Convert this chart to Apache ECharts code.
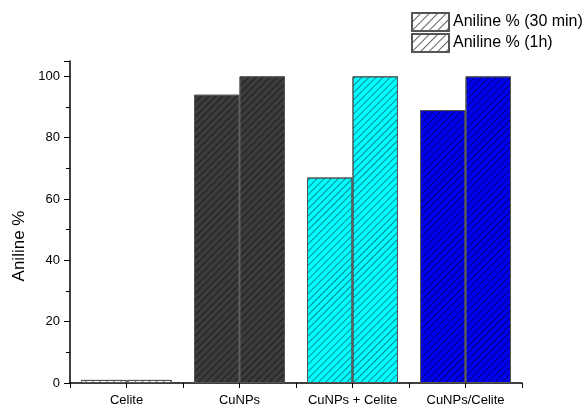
<!DOCTYPE html>
<html>
<head>
<meta charset="utf-8">
<script src="https://cdn.jsdelivr.net/npm/echarts@6/dist/echarts.min.js"></script>
<style>
  html, body { margin: 0; padding: 0; background: #fff; }
  #chart { width: 587px; height: 407px; }
</style>
</head>
<body>
<div id="chart"></div>
<script>
// Catalyst samples and aniline yield (%) after 30 min and 1 h
const categories = ['Celite', 'CuNPs', 'CuNPs + Celite', 'CuNPs/Celite'];
const aniline30min = [1, 94, 67, 89];
const aniline1h = [1, 100, 100, 100];
const seriesNames = ['Aniline % (30 min)', 'Aniline % (1h)'];
const barColors = ['#ffffff', '#3c3c3c', '#00ffff', '#0000f0'];
const yTicks = [0, 20, 40, 60, 80, 100];

// diagonal "/" hatch used as bar fill texture
function hatch(color, gap) {
  return {
    symbol: 'rect',
    symbolSize: 1,
    dashArrayX: [1, 0],
    dashArrayY: [1, gap],
    rotation: -Math.PI / 4,
    color: color
  };
}
const hatchColors = ['rgba(90,90,90,0.8)', 'rgba(20,20,20,0.75)', 'rgba(0,90,100,0.7)', 'rgba(0,0,70,0.7)'];

function buildData(values) {
  return values.map((v, i) => ({
    value: v,
    itemStyle: {
      color: barColors[i],
      decal: hatch(hatchColors[i], 3.5)
    }
  }));
}

const font = 'Liberation Sans, Arial, sans-serif';
const chart = echarts.init(document.getElementById('chart'), null, { renderer: 'canvas' });

const legendStyle = { color: '#ffffff', borderColor: '#333', borderWidth: 1, decal: hatch('rgba(70,70,70,0.85)', 5) };

chart.setOption({
  animation: false,
  aria: { enabled: true, decal: { show: true } },
  backgroundColor: '#ffffff',
  grid: { left: 70, right: 65, top: 61, bottom: 24, containLabel: false },
  legend: {
    orient: 'vertical',
    left: 411,
    top: 12,
    padding: 0,
    itemWidth: 37,
    itemHeight: 18,
    itemGap: 1,
    icon: 'rect',
    textStyle: { fontFamily: font, fontSize: 16, color: '#000', padding: [0, 0, 0, -1] },
    data: seriesNames
  },
  xAxis: [
    {
      type: 'category',
      data: categories,
      axisLine: { lineStyle: { color: '#000', width: 1.5 } },
      axisTick: { show: true, length: 5, lineStyle: { color: '#000', width: 1 } },
      axisLabel: { interval: 0, fontFamily: font, fontSize: 13, color: '#000', margin: 11 }
    },
    {
      type: 'category',
      data: categories,
      position: 'bottom',
      axisLine: { show: false },
      axisTick: { show: true, alignWithLabel: true, interval: 0, length: 5, lineStyle: { color: '#000', width: 1 } },
      axisLabel: { show: false }
    }
  ],
  yAxis: {
    type: 'value',
    min: 0,
    max: 105,
    interval: 20,
    name: 'Aniline %',
    nameLocation: 'middle',
    nameGap: 41,
    nameTextStyle: { fontFamily: font, fontSize: 17, color: '#000', padding: [0, 48, 0, 0] },
    splitLine: { show: false },
    axisLine: { show: true, lineStyle: { color: '#000', width: 1.5 } },
    axisTick: { show: true, length: 6, lineStyle: { color: '#000', width: 1 } },
    minorTick: { show: true, splitNumber: 2, length: 4, lineStyle: { color: '#000', width: 1 } },
    axisLabel: {
      fontFamily: font, fontSize: 13, color: '#000', margin: 10,
      formatter: v => (yTicks.indexOf(v) >= 0 ? String(v) : '')
    }
  },
  series: [
    {
      name: seriesNames[0],
      type: 'bar',
      barGap: '0%',
      barCategoryGap: '19.5%',
      itemStyle: Object.assign({}, legendStyle, { borderColor: '#555' }),
      data: buildData(aniline30min)
    },
    {
      name: seriesNames[1],
      type: 'bar',
      barGap: '0%',
      barCategoryGap: '19.5%',
      itemStyle: Object.assign({}, legendStyle, { borderColor: '#555' }),
      data: buildData(aniline1h)
    }
  ]
});
</script>
</body>
</html>
